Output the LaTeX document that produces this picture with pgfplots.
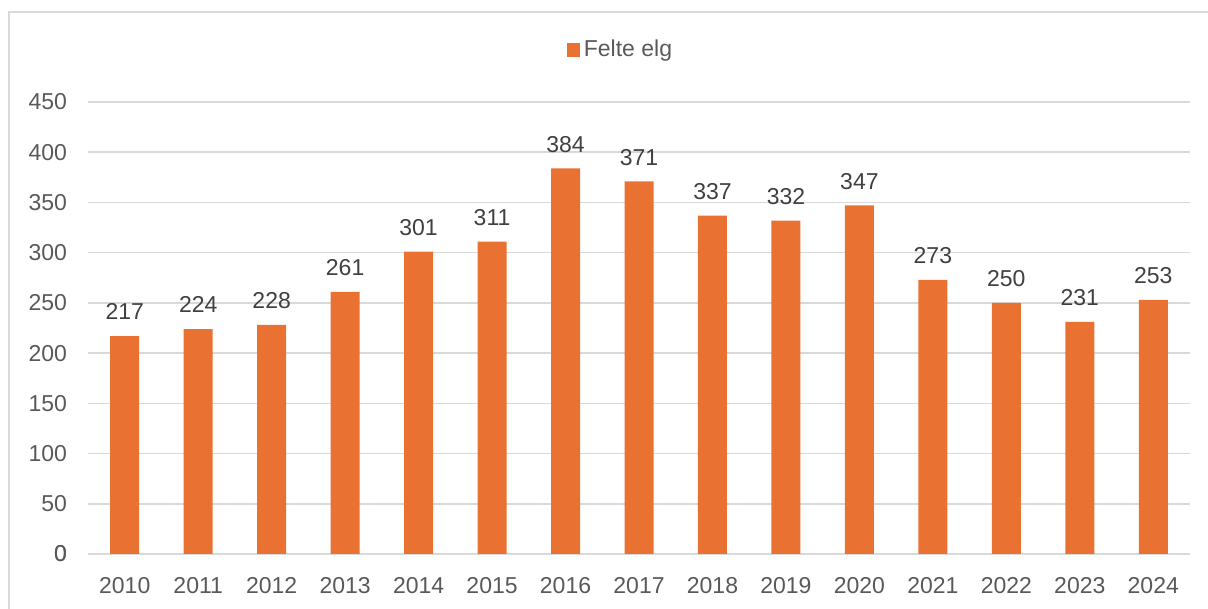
\documentclass[border=0pt]{standalone}
\usepackage{pgfplots}
\pgfplotsset{compat=1.18}
\usepackage{fontspec}
\setmainfont{Liberation Sans}
\definecolor{barc}{HTML}{E97132}
\definecolor{gridc}{HTML}{D9D9D9}
\definecolor{txt}{HTML}{595959}
\definecolor{lbl}{HTML}{404040}
\begin{document}
\begin{tikzpicture}
\useasboundingbox (0,0) rectangle (604pt,304.5pt);
\draw[gridc, line width=0.8pt] (4.5pt,0) -- (4.5pt,298.5pt) -- (610pt,298.5pt);
\begin{axis}[
  at={(44pt,27.5pt)}, anchor=south west,
  scale only axis, width=551pt, height=226pt,
  xmin=-0.5, xmax=14.5, ymin=0, ymax=450,
  ytick={0,50,...,450},
  xtick=data,
  xticklabels={2010,2011,2012,2013,2014,2015,2016,2017,2018,2019,2020,2021,2022,2023,2024},
  axis line style={draw=none},
  axis x line*=bottom,
  major tick length=0pt,
  ymajorgrids, grid style={gridc, line width=0.8pt},
  extra y ticks={0}, extra y tick style={grid style={gridc,line width=0.8pt}},
  ticklabel style={font=\fontsize{11.5}{13}\selectfont, text=txt},
  xticklabel style={yshift=-8pt},
  yticklabel style={xshift=-7pt},
  /pgf/number format/assume math mode=true,
  ybar, bar width=14.5pt,
  nodes near coords,
  every node near coord/.append style={font=\fontsize{11.5}{13}\selectfont, text=lbl, yshift=4.5pt},
  legend style={at={(0.484,1.115)}, anchor=center, draw=none, fill=none,
    font=\fontsize{11.5}{13}\selectfont, text=txt},
  legend image code/.code={\fill[barc] (0pt,-3.3pt) rectangle (6.6pt,3.3pt);},
]
\addplot[fill=barc, draw=none] coordinates {
(0,217) (1,224) (2,228) (3,261) (4,301) (5,311) (6,384) (7,371)
(8,337) (9,332) (10,347) (11,273) (12,250) (13,231) (14,253)};
\addlegendentry{Felte elg}
\end{axis}
\end{tikzpicture}
\end{document}
